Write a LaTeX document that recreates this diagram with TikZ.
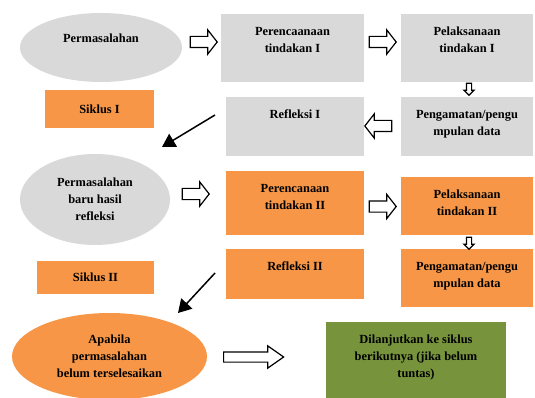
\documentclass[tikz,border=0pt]{standalone}
\usepackage{fontspec}
\setmainfont{Liberation Serif}
\definecolor{siklusgrey}{RGB}{217,217,217}
\definecolor{siklusorange}{RGB}{247,150,70}
\definecolor{siklusgreen}{RGB}{119,147,60}
\usetikzlibrary{shapes,arrows.meta,positioning}

\begin{document}
\begin{tikzpicture}[x=1pt, y=-1pt,
    txt/.style={font=\bfseries\fontsize{12.4}{17}\selectfont, align=center, inner sep=0pt},
    greybox/.style={rectangle, fill=siklusgrey, inner sep=0pt},
    orangebox/.style={rectangle, fill=siklusorange, inner sep=0pt},
    blockarrow/.style={single arrow, draw, fill=white, line width=1.2pt, inner xsep=0pt,
        inner ysep=5pt, minimum height=27pt, single arrow head extend=6.5pt,
        single arrow tip angle=104},
    smallarrow/.style={blockarrow, inner ysep=2pt, minimum height=12pt,
        single arrow head extend=2.5pt, single arrow tip angle=90},
    diag/.style={line width=1.5pt, -{Triangle[length=13pt,width=15pt]}}]
    \useasboundingbox (0,0) rectangle (535,398);

    % siklus I
    \node[ellipse, fill=siklusgrey, minimum width=162pt, minimum height=69pt, inner sep=0pt] (mas1) at (101,47.5) {};
    \node[txt] at ([yshift=9.5pt]mas1.center) {Permasalahan};
    \node[greybox, minimum width=143pt, minimum height=68pt] (ren1) at (292.5,48) {};
    \node[txt, anchor=north] at ([yshift=-13pt]ren1.north) {Perencaanaan\\tindakan I};
    \node[greybox, minimum width=132pt, minimum height=68pt] (lak1) at (467,48) {};
    \node[txt, anchor=north] at ([yshift=-13pt]lak1.north) {Pelaksanaan\\tindakan I};
    \node[greybox, minimum width=132pt, minimum height=59pt] (amat1) at (467,126.5) {};
    \node[txt, anchor=north] at ([yshift=-13pt]amat1.north) {Pengamatan/pengu\\mpulan data};
    \node[greybox, minimum width=138pt, minimum height=59pt] (ref1) at (295,126.5) {};
    \node[txt, anchor=north] at ([yshift=-13pt]ref1.north) {Refleksi I};
    \node[orangebox, minimum width=109pt, minimum height=38pt] (sik1) at (99.5,109) {};
    \node[txt] at (sik1.center) {Siklus I};

    \node[blockarrow] (a1) at (201.5,42) {};
    \node[blockarrow] (a2) at (380.5,42) {};
    \node[smallarrow, rotate=-90] (down1) at (469,88) {};
    \node[blockarrow, rotate=180] (back1) at (380.5,126) {};

    \coordinate (d1s) at (215,115);
    \coordinate (d1e) at (162,147);
    \draw[diag] (d1s) -- (d1e);

    % siklus II
    \node[ellipse, fill=siklusgrey, minimum width=150pt, minimum height=91pt, inner sep=0pt, txt] (mas2) at (95,199.5) {Permasalahan\\baru hasil\\refleksi};
    \node[orangebox, minimum width=138pt, minimum height=64pt] (ren2) at (295,203) {};
    \node[txt, anchor=north] at ([yshift=-13pt]ren2.north) {Perencanaan\\tindakan II};
    \node[orangebox, minimum width=132pt, minimum height=58pt] (lak2) at (467,206) {};
    \node[txt, anchor=north] at ([yshift=-13pt]lak2.north) {Pelaksanaan\\tindakan II};
    \node[orangebox, minimum width=132pt, minimum height=58pt] (amat2) at (467,278) {};
    \node[txt, anchor=north] at ([yshift=-13pt]amat2.north) {Pengamatan/pengu\\mpulan data};
    \node[orangebox, minimum width=138pt, minimum height=50pt] (ref2) at (295,274) {};
    \node[txt, anchor=north] at ([yshift=-13pt]ref2.north) {Refleksi II};
    \node[orangebox, minimum width=117pt, minimum height=33pt] (sik2) at (95.5,277.5) {};
    \node[txt] at (sik2.center) {Siklus II};

    \node[blockarrow] (a3) at (193.5,194) {};
    \node[blockarrow] (a4) at (380.5,206.5) {};
    \node[smallarrow, rotate=-90] (down2) at (469,242) {};

    \coordinate (d2s) at (215,273);
    \coordinate (d2e) at (178,313);
    \draw[diag] (d2s) -- (d2e);

    % lanjut
    \node[ellipse, fill=siklusorange, minimum width=195pt, minimum height=87pt, inner sep=0pt, txt] (mas3) at (109.5,356.5) {Apabila\\permasalahan\\belum terselesaikan};
    \node[rectangle, fill=siklusgreen, minimum width=180pt, minimum height=78pt, inner sep=0pt] (lanjut) at (416,361) {};
    \node[txt, anchor=north] at ([yshift=-13pt]lanjut.north) {Dilanjutkan ke siklus\\berikutnya (jika belum\\tuntas)};
    \node[blockarrow, minimum height=60pt, inner ysep=4.5pt, single arrow head extend=6pt,
        single arrow tip angle=70] (a5) at (250,357) {};
\end{tikzpicture}
\end{document}
